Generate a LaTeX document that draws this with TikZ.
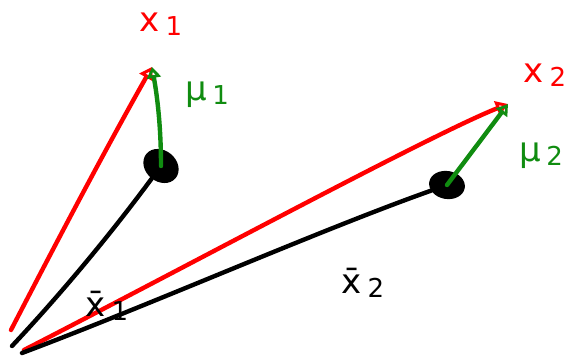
\documentclass[tikz,border=0pt]{standalone}
\usepackage{fontspec}
\setmainfont{DejaVu Sans}
\usetikzlibrary{arrows.meta,shapes.geometric}
\definecolor{hred}{RGB}{255,0,0}
\definecolor{hgreen}{RGB}{16,140,16}
\newcommand{\lowsub}[1]{\,\raisebox{-4pt}{\fontsize{26}{26}\selectfont #1}}
\begin{document}
\begin{tikzpicture}[x=1pt,y=-1pt,
  redline/.style={draw=hred,line width=4.4pt,line cap=round,-{Triangle[open,length=12pt,width=15pt,line width=3.5pt]}},
  blackline/.style={draw=black,line width=4.4pt,line cap=round},
  greenline/.style={draw=hgreen,line width=4.4pt,line cap=round,-{Triangle[open,length=11pt,width=14pt,line width=3.5pt]}},
  blob/.style={fill=black,ellipse,inner sep=0pt},
  lab/.style={font=\fontsize{34}{34}\selectfont,inner sep=1pt},
  redlab/.style={lab,text=hred},
  greenlab/.style={lab,text=hgreen},
  blacklab/.style={lab,text=black}]
\useasboundingbox (0,0) rectangle (582,356);
\coordinate (o1) at (12,346);
\coordinate (o2) at (22,353);
\coordinate (r1) at (11,330);
\coordinate (r2) at (24,350);
\coordinate (x1) at (152,67);
\coordinate (x2) at (508,104);
\node[blob,minimum width=38pt,minimum height=31pt,rotate=-40] (b1) at (161,166) {};
\node[blob,minimum width=36pt,minimum height=28pt,rotate=-10] (b2) at (447,185) {};
% red vectors
\draw[redline] (r1) .. controls (55,245) and (105,150) .. (x1);
\draw[redline] (r2) .. controls (180,270) and (430,135) .. (x2);
% black vectors
\draw[blackline] (o1) .. controls (60,295) and (110,235) .. (b1);
\draw[blackline] (o2) .. controls (150,305) and (320,230) .. (b2);
% green arrows
\draw[greenline] (b1.center) .. controls (161,125) and (157,95) .. (x1);
\draw[greenline] (b2.center) -- (x2);
% labels
\node[redlab] (lx1) at (161,24) {x\lowsub{1}};
\node[redlab] (lx2) at (545,75) {x\lowsub{2}};
\node[greenlab] (lm1) at (207,95) {μ\lowsub{1}};
\node[greenlab] (lm2) at (541,156) {μ\lowsub{2}};
\node[blacklab] (lxb1) at (107,306) {\={x}\lowsub{1}};
\node[blacklab] (lxb2) at (363,283) {\={x}\lowsub{2}};
\end{tikzpicture}
\end{document}
